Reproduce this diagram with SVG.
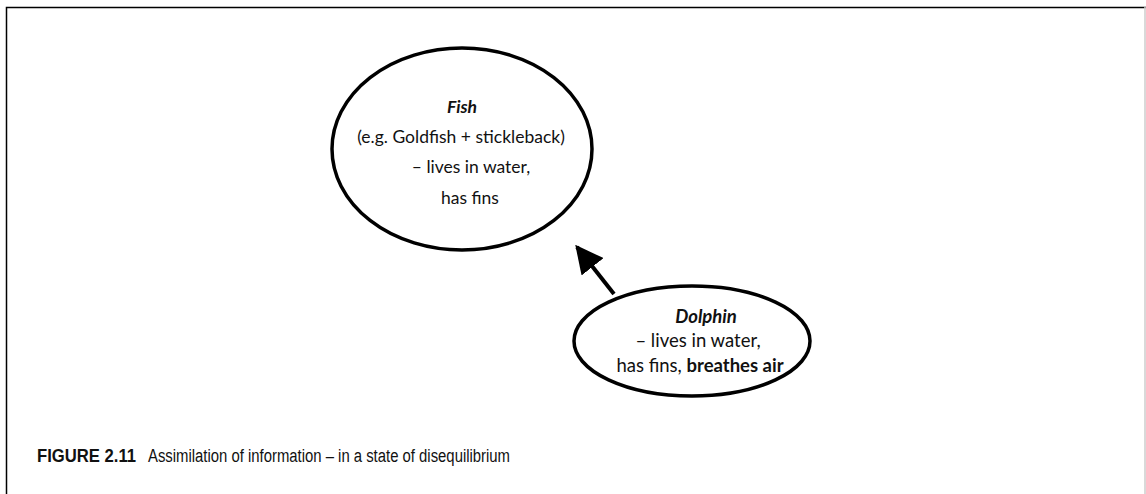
<svg xmlns="http://www.w3.org/2000/svg" width="1146" height="494" viewBox="0 0 1146 494">
  <style>
    .frame { fill: none; stroke: #000; stroke-width: 1.5; }
    .node { fill: #fff; stroke: #000; stroke-width: 3.5; }
    .label { font-family: Lato, "Open Sans", "Liberation Sans", sans-serif; font-size: 17.5px; fill: #111; text-anchor: middle; }
    .big { font-size: 18.5px; }
    .title { font-weight: bold; font-style: italic; }
    .strong { font-weight: bold; }
    .edge { stroke: #000; stroke-width: 4; fill: none; }
    .caption { font-family: "Liberation Sans Narrow", "Liberation Sans", Arial, sans-serif; font-size: 18px; fill: #111; }
  </style>
  <defs>
    <marker id="arrowhead" viewBox="0 0 10 10" refX="9" refY="5" markerWidth="7" markerHeight="7" markerUnits="strokeWidth" orient="auto">
      <path d="M0,0 L10,5 L0,10 z" fill="#000"/>
    </marker>
  </defs>

  <rect width="1146" height="494" fill="#fff"/>
  <path class="frame" d="M6.5,500 V7.5 H1146"/>
  <line x1="1145" y1="7" x2="1145" y2="494" stroke="#ccc" stroke-width="1.5"/>

  <g id="connectors">
    <line class="edge" x1="614" y1="294" x2="577" y2="247" marker-end="url(#arrowhead)"/>
  </g>

  <g id="fish">
    <ellipse class="node" cx="462" cy="149" rx="130" ry="101"/>
    <text class="label title" x="462" y="113">Fish</text>
    <text class="label" x="461" y="143">(e.g. Goldfish + stickleback)</text>
    <text class="label" x="471" y="173">– lives in water,</text>
    <text class="label" x="470" y="204">has fins</text>
  </g>

  <g id="dolphin">
    <ellipse class="node" cx="692" cy="341" rx="118" ry="55"/>
    <text class="label big title" x="706" y="323">Dolphin</text>
    <text class="label big" x="698" y="347">– lives in water,</text>
    <text class="label big" x="700" y="372">has fins, <tspan class="strong">breathes air</tspan></text>
  </g>

  <g id="caption">
    <text class="caption" x="37" y="462"><tspan font-weight="bold" textLength="99" lengthAdjust="spacingAndGlyphs">FIGURE 2.11</tspan><tspan x="148" textLength="362" lengthAdjust="spacingAndGlyphs">Assimilation of information – in a state of disequilibrium</tspan></text>
  </g>
</svg>
